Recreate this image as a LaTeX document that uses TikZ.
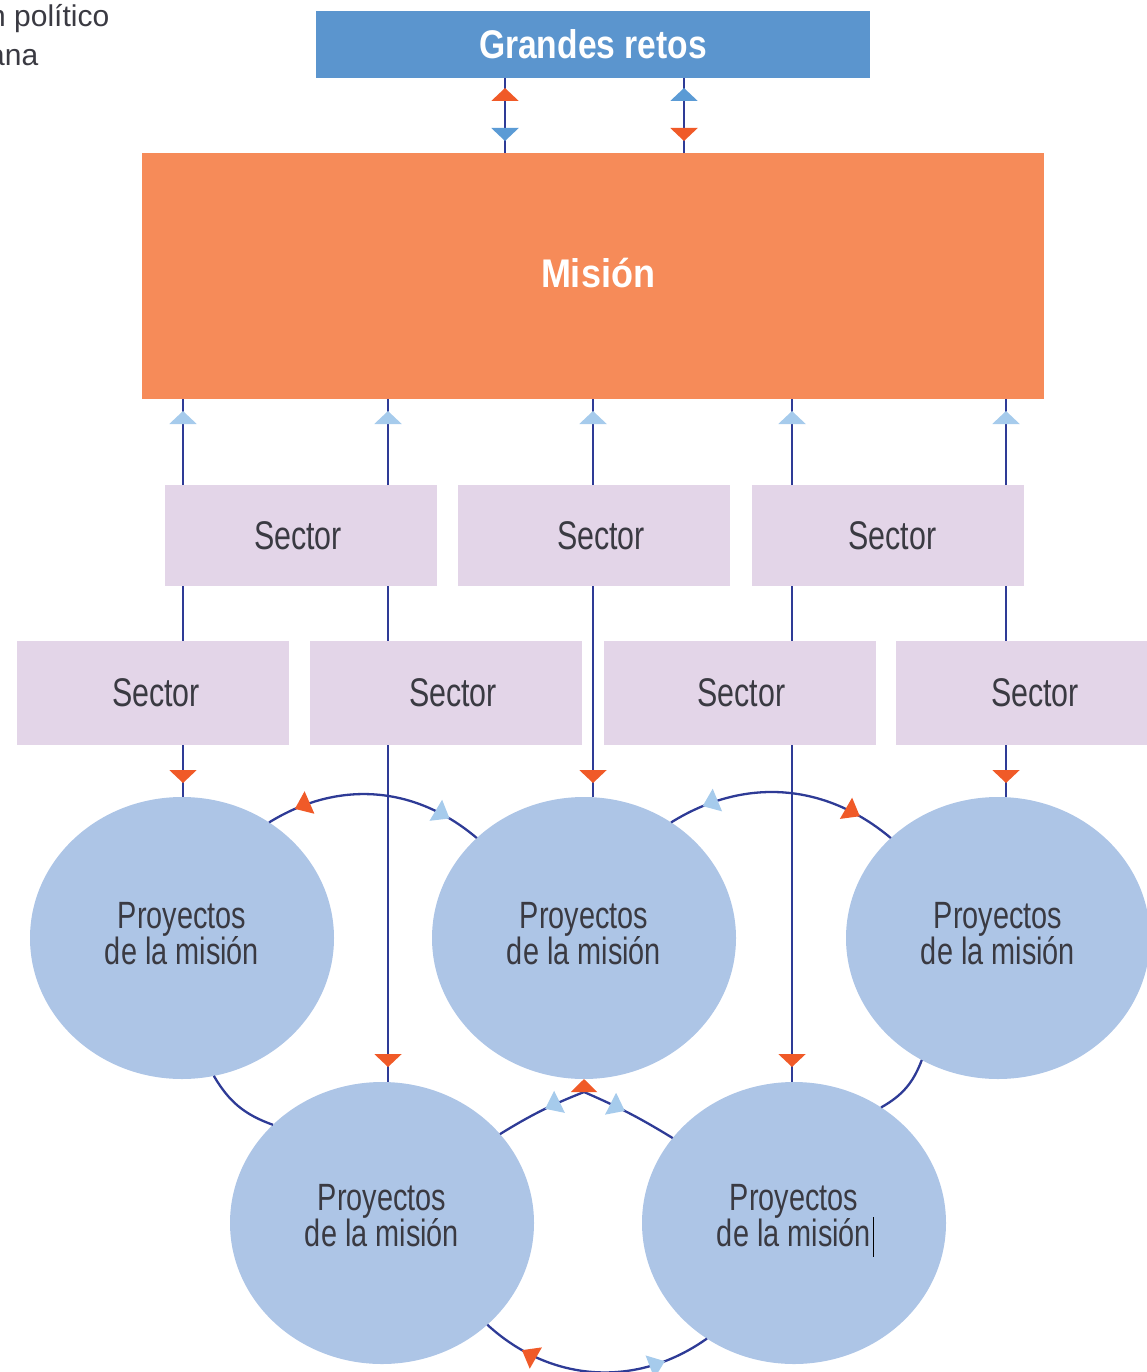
\documentclass[tikz,border=0pt]{standalone}
\usepackage{fontspec}
\setmainfont{Liberation Sans}
\newfontfamily\condfont{Liberation Sans}[FakeStretch=0.76]
\newfontfamily\condbold{Liberation Sans}[FakeStretch=0.84]
\newfontfamily\misbold{Liberation Sans}[FakeStretch=0.9]
\usetikzlibrary{arrows.meta,decorations.markings,shapes.geometric}
\definecolor{navy}{HTML}{2E3B96}
\definecolor{orangeA}{HTML}{F05A28}
\definecolor{lblue}{HTML}{A6CBEC}
\definecolor{mblue}{HTML}{5B9BD5}
\definecolor{grfill}{HTML}{5B95CE}
\definecolor{misfill}{HTML}{F68B59}
\definecolor{secfill}{HTML}{E3D5E8}
\definecolor{circfill}{HTML}{ADC5E6}
\definecolor{txt}{HTML}{3A3A42}
\tikzset{
  conn/.style={draw=navy, line width=2.3pt},
  fwd/.style 2 args={postaction={decorate,decoration={markings,mark=at position #1 with {\arrow{Triangle[width=27pt,length=13pt,color=#2]}}}}},
  bwd/.style 2 args={postaction={decorate,decoration={markings,mark=at position #1 with {\arrowreversed{Triangle[width=27pt,length=13pt,color=#2]}}}}},
  afwd/.style 2 args={postaction={decorate,decoration={markings,mark=at position #1 with {\arrow{Triangle[width=24pt,length=16pt,color=#2]}}}}},
  abwd/.style 2 args={postaction={decorate,decoration={markings,mark=at position #1 with {\arrowreversed{Triangle[width=24pt,length=16pt,color=#2]}}}}},
  secbox/.style={rectangle, fill=secfill, minimum width=272pt, minimum height=101pt, inner sep=0pt, outer sep=0pt, text=txt, font=\condfont\fontsize{40}{44}\selectfont},
  projcirc/.style={ellipse, fill=circfill, minimum width=304pt, minimum height=282pt, inner sep=0pt, outer sep=0pt},
  projlabel/.style={inner sep=0pt, align=center, text=txt, font=\condfont\fontsize{38}{36}\selectfont},
  titlebox/.style={rectangle, inner sep=0pt, outer sep=0pt, text=white, font=\condbold\bfseries\fontsize{40}{44}\selectfont},
  sidetext/.style={anchor=base west, inner sep=0pt, text=txt, font=\fontsize{30}{36}\selectfont}
}
\begin{document}
\begin{tikzpicture}[x=1pt,y=1pt]
\useasboundingbox (0,0) rectangle (1147,-1372);
\clip (0,0) rectangle (1147,-1372);

% partial text at top left
\node[sidetext] (t1) at (-11,-27) {n político};
\node[sidetext] (t2) at (-12,-66) {ana};

% main boxes
\node[titlebox, fill=grfill, minimum width=554pt, minimum height=67pt] (g) at (593,-44.5) {Grandes retos};
\node[titlebox, fill=misfill, minimum width=902pt, minimum height=246pt] (m) at (593,-276) {};
\node[text=white, font=\misbold\bfseries\fontsize{40}{44}\selectfont, inner sep=0pt] (mt) at (598,-273) {Misión};

% sectors
\node[secbox] (s1) at (301,-535.5) {\hspace*{-6pt}Sector};
\node[secbox] (s2) at (594,-535.5) {\hspace*{14pt}Sector};
\node[secbox] (s3) at (887.5,-535.5) {\hspace*{10pt}Sector};
\node[secbox, minimum height=104pt] (b1) at (153,-693) {\hspace*{6pt}Sector};
\node[secbox, minimum height=104pt] (b2) at (446,-693) {\hspace*{14pt}Sector};
\node[secbox, minimum height=104pt] (b3) at (739.5,-693) {\hspace*{4pt}Sector};
\node[secbox, minimum height=104pt] (b4) at (1032,-693) {\hspace*{6pt}Sector};

% project circles
\node[projcirc] (c1) at (182,-938) {};
\node[projcirc] (c2) at (584,-938) {};
\node[projcirc] (c3) at (998,-938) {};
\node[projcirc] (c4) at (382,-1223) {};
\node[projcirc] (c5) at (794,-1223) {};
\node[projlabel] (c1t) at ([yshift=4pt]c1.center) {Proyectos\\de la misión};
\node[projlabel] (c2t) at ([yshift=4pt]c2.center) {Proyectos\\de la misión};
\node[projlabel] (c3t) at ([yshift=4pt]c3.center) {Proyectos\\de la misión};
\node[projlabel] (c4t) at ([yshift=7pt]c4.center) {Proyectos\\de la misión};
\node[projlabel] (c5t) at ([yshift=7pt]c5.center) {Proyectos\\de la misión\rlap{\hspace{1.5pt}\smash{\color{black}\rule[-10pt]{1.8pt}{40pt}}}};

% x positions of the vertical connectors
\coordinate (ta) at (505,0);
\coordinate (tb) at (684,0);
\coordinate (x1) at (183,0);
\coordinate (x2) at (388,0);
\coordinate (x3) at (593,0);
\coordinate (x4) at (792,0);
\coordinate (x5) at (1006,0);

% Grandes retos <-> Misión
\draw[conn, fwd={-10pt}{orangeA}, bwd={12pt}{mblue}] (m.north -| ta) -- (g.south -| ta);
\draw[conn, fwd={-10pt}{mblue}, bwd={12pt}{orangeA}] (m.north -| tb) -- (g.south -| tb);

% sectors up to Misión
\draw[conn, fwd={-12pt}{lblue}] (s1.north -| x1) -- (m.south -| x1);
\draw[conn, fwd={-12pt}{lblue}] (s1.north -| x2) -- (m.south -| x2);
\draw[conn, fwd={-12pt}{lblue}] (s2.north -| x3) -- (m.south -| x3);
\draw[conn, fwd={-12pt}{lblue}] (s3.north -| x4) -- (m.south -| x4);
\draw[conn, fwd={-12pt}{lblue}] (s3.north -| x5) -- (m.south -| x5);

% sector to sector
\draw[conn] (s1.south -| x1) -- (b1.north -| x1);
\draw[conn] (s1.south -| x2) -- (b2.north -| x2);
\draw[conn] (s3.south -| x4) -- (b3.north -| x4);
\draw[conn] (s3.south -| x5) -- (b4.north -| x5);

% down to the projects
\draw[conn, fwd={-14pt}{orangeA}] (b1.south -| x1) -- (c1.north -| x1);
\draw[conn, fwd={-15pt}{orangeA}] (b2.south -| x2) -- (c4.north -| x2);
\draw[conn, fwd={-14pt}{orangeA}] (s2.south -| x3) -- (c2.north -| x3);
\draw[conn, fwd={-15pt}{orangeA}] (b3.south -| x4) -- (c5.north -| x4);
\draw[conn, fwd={-14pt}{orangeA}] (b4.south -| x5) -- (c3.north -| x5);

% links between projects
\draw[conn, abwd={0.13}{orangeA}, afwd={0.85}{lblue}] (c1.53) to[bend left=36] (c2.137);
\draw[conn, abwd={0.15}{lblue}, afwd={0.84}{orangeA}] (c2.53) to[bend left=36] (c3.137);
\draw[conn] (c1.-77) to[bend right=20] (c4.138);
\draw[conn] (c3.-122) to[bend left=20] (c5.53);
\coordinate (j) at (584,-1092);
\draw[conn, abwd={0.55}{lblue}] (c4.37) to[bend left=5] (j);
\draw[conn, abwd={0.55}{lblue}] (c5.145) to[bend right=4] (j);
\draw[conn, -{Triangle[width=26pt,length=13pt,color=orangeA]}] (j) -- (c2.south);
\draw[conn, abwd={0.18}{orangeA}, afwd={0.8}{lblue}] (c4.-44) to[bend right=39] (c5.-127);
\end{tikzpicture}
\end{document}
